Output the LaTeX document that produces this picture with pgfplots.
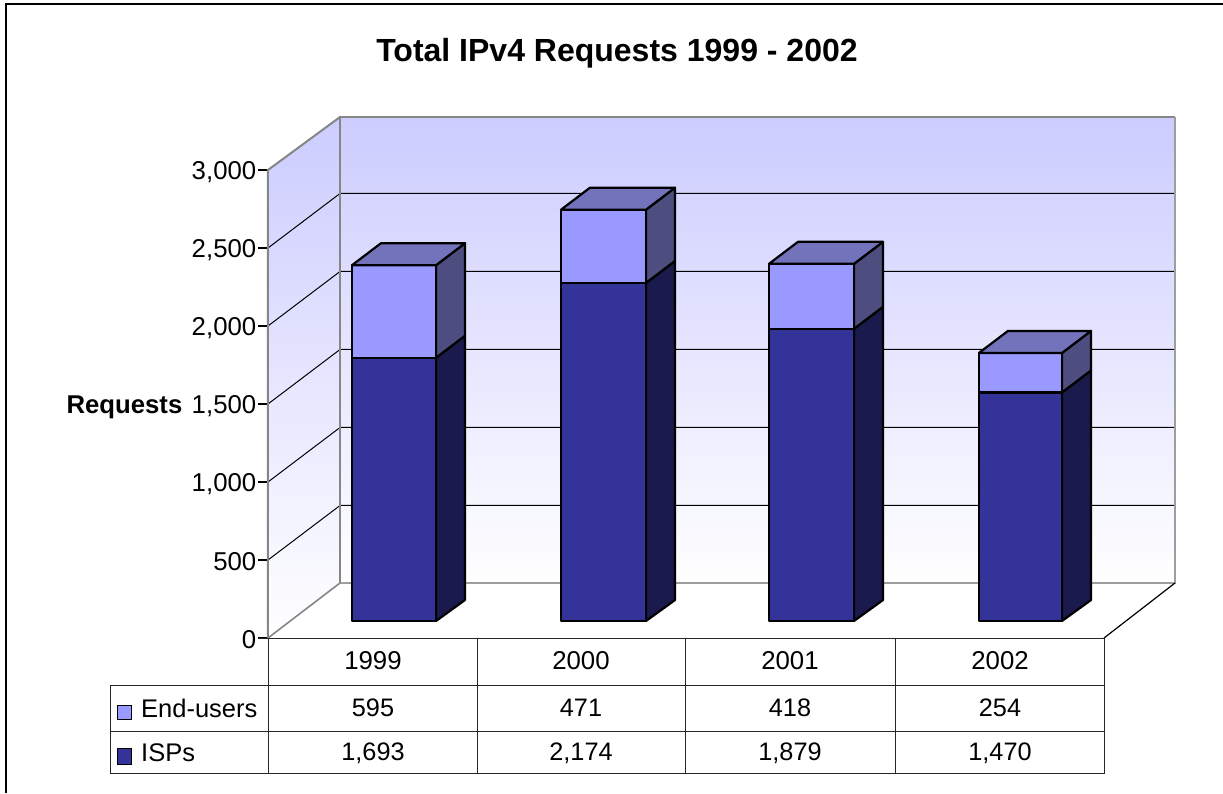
\documentclass[border=0pt]{standalone}
\usepackage{fontspec}
\setmainfont{Liberation Sans}
\usepackage{pgfplots}
\pgfplotsset{compat=1.18}
\definecolor{wall}{HTML}{CCCCFF}
\definecolor{frameg}{HTML}{868686}
\definecolor{isp}{HTML}{333399}
\definecolor{ispside}{HTML}{1A1A4D}
\definecolor{end}{HTML}{9999FF}
\definecolor{endside}{HTML}{4D4D80}
\definecolor{endtop}{HTML}{7373BB}
% x1 x2 x3(back) lo hi lo+depth hi+depth front side
\newcommand{\seg}[9]{%
  \addplot[draw=black,line width=2.2pt,line join=round,fill=#9] coordinates {(#2,#4) (#3,#6) (#3,#7) (#2,#5)} -- cycle;
  \addplot[draw=black,line width=2.2pt,line join=round,fill=#8] coordinates {(#1,#4) (#2,#4) (#2,#5) (#1,#5)} -- cycle;
}
% x1 x2 depth-x1 x3 hi hi+depth
\newcommand{\topf}[6]{%
  \addplot[draw=black,line width=2.2pt,line join=round,fill=endtop] coordinates {(#1,#5) (#2,#5) (#4,#6) (#3,#6)} -- cycle;
}
\newcommand{\cell}[3]{\node[font=\fontsize{25.3}{28}\selectfont,anchor=center,inner sep=0pt] at (axis cs:#1,#2) {#3};}
\begin{document}
\begin{tikzpicture}
\useasboundingbox (-268pt,-155pt) rectangle (955pt,638pt);
\fill[white] (-268pt,-155pt) rectangle (955pt,638pt);
% walls, grid, value ticks and the data table
\begin{axis}[
  at={(0pt,0pt)},anchor=south west,
  scale only axis,width=907pt,height=468pt,
  xmin=268,xmax=1175,ymin=0,ymax=3000,clip=false,
  axis lines=left,axis line style={-,draw=none},
  ytick={0,500,1000,1500,2000,2500,3000},
  xtick={373,581,790,1000},xticklabels={1999,2000,2001,2002},
  tick align=outside,major tick length=10pt,
  ytick style={black,line width=1.1pt},xtick style={draw=none},
  tick label style={font=\fontsize{25.8}{28}\selectfont},
  yticklabel style={inner sep=1.5pt,yshift=-2pt},
  xticklabel style={anchor=center,inner sep=0pt,yshift=-13pt},
  /pgf/number format/.cd,assume math mode=true,1000 sep={,},fixed,precision=0,
]
% chart frame
\addplot[black,line width=2pt] coordinates {(6,-993.6) (6,4064.1) (1223,4064.1)};
% floor
\addplot[draw=none,fill=white] coordinates {(268,0) (340,352.6) (1175,352.6) (1104,0)} -- cycle;
% side and back walls
\addplot[draw=none,top color=wall,bottom color=white] coordinates {(268,0) (340,352.6) (340,3339.7) (268,3000)} -- cycle;
\addplot[draw=none,top color=wall,bottom color=white] coordinates {(340,352.6) (1175,352.6) (1175,3339.7) (340,3339.7)} -- cycle;
% gridlines
\addplot[black,line width=1pt] coordinates {(268,500) (340,849.4) (1175,849.4)};
\addplot[black,line width=1pt] coordinates {(268,1000) (340,1349.4) (1175,1349.4)};
\addplot[black,line width=1pt] coordinates {(268,1500) (340,1849.4) (1175,1849.4)};
\addplot[black,line width=1pt] coordinates {(268,2000) (340,2349.4) (1175,2349.4)};
\addplot[black,line width=1pt] coordinates {(268,2500) (340,2849.4) (1175,2849.4)};
% wall edges
\addplot[frameg,line width=2pt] coordinates {(268,0) (268,3000) (340,3339.7)};
\addplot[frameg,line width=2.6pt] coordinates {(340,352.6) (340,3339.7) (1175,3339.7)};
\addplot[frameg!80,line width=2.6pt] coordinates {(1175,3339.7) (1175,352.6) (340,352.6)};
\addplot[frameg,line width=1.6pt] coordinates {(268,0) (340,352.6)};
\addplot[black,line width=1.2pt] coordinates {(1104,0) (1175,352.6)};
% data table rules
\addplot[black!85,line width=1.1pt] coordinates {(258,-3.2) (1104.5,-3.2)};
\addplot[black!85,line width=1.1pt] coordinates {(110,-304.5) (1104.5,-304.5)};
\addplot[black!85,line width=1.1pt] coordinates {(110,-599.4) (1104.5,-599.4)};
\addplot[black!85,line width=1.1pt] coordinates {(110,-868.6) (1104.5,-868.6)};
\addplot[black!85,line width=1.1pt] coordinates {(110.5,-304.5) (110.5,-868.6)};
\addplot[black!85,line width=1.1pt] coordinates {(268.5,0) (268.5,-868.6)};
\addplot[black!85,line width=1.1pt] coordinates {(477.5,0) (477.5,-868.6)};
\addplot[black!85,line width=1.1pt] coordinates {(685.5,0) (685.5,-868.6)};
\addplot[black!85,line width=1.1pt] coordinates {(895.5,0) (895.5,-868.6)};
\addplot[black!85,line width=1.1pt] coordinates {(1104.5,0) (1104.5,-868.6)};
% legend keys
\addplot[draw=black,line width=1pt,fill=end] coordinates {(117.5,-429.5) (132,-429.5) (132,-525.6) (117.5,-525.6)} -- cycle;
\addplot[draw=black,line width=1pt,fill=isp] coordinates {(117.5,-711.5) (132,-711.5) (132,-807.7) (117.5,-807.7)} -- cycle;
% table text
\node[font=\fontsize{25.5}{28}\selectfont,anchor=west,inner sep=0pt] at (axis cs:141,-448.7) {End-users};
\node[font=\fontsize{25.5}{28}\selectfont,anchor=west,inner sep=0pt] at (axis cs:141,-737) {ISPs};
\cell{373}{-448.7}{595}\cell{581}{-448.7}{471}\cell{790}{-448.7}{418}\cell{1000}{-448.7}{254}
\cell{373}{-737}{1,693}\cell{581}{-737}{2,174}\cell{790}{-737}{1,879}\cell{1000}{-737}{1,470}
% titles
\node[font=\fontsize{32}{36}\bfseries\selectfont,anchor=center,inner sep=0pt] at (axis cs:617,3750) {Total IPv4 Requests 1999 - 2002};
\node[font=\fontsize{25.7}{30}\bfseries\selectfont,anchor=center,inner sep=0pt] at (axis cs:124.5,1480.8) {Requests};
\end{axis}
% the stacked bars: value 0 stands at the front of the floor
\begin{axis}[
  at={(0pt,0pt)},anchor=south west,
  scale only axis,width=907pt,height=468pt,
  xmin=268,xmax=1175,ymin=-109.3,ymax=2900.3,clip=false,hide axis,
]
\seg{352}{436}{465}{0}{1693}{135}{1834.5}{isp}{ispside}
\seg{352}{436}{465}{1693}{2288}{1834.5}{2429.5}{end}{endside}
\topf{352}{436}{381}{465}{2288}{2429.5}
\seg{561}{646}{675}{0}{2174}{135}{2315.5}{isp}{ispside}
\seg{561}{646}{675}{2174}{2645}{2315.5}{2786.5}{end}{endside}
\topf{561}{646}{590}{675}{2645}{2786.5}
\seg{769}{854}{883}{0}{1879}{135}{2020.5}{isp}{ispside}
\seg{769}{854}{883}{1879}{2297}{2020.5}{2438.5}{end}{endside}
\topf{769}{854}{798}{883}{2297}{2438.5}
\seg{979}{1062}{1091}{0}{1470}{135}{1611.5}{isp}{ispside}
\seg{979}{1062}{1091}{1470}{1724}{1611.5}{1865.5}{end}{endside}
\topf{979}{1062}{1008}{1091}{1724}{1865.5}
\end{axis}
\end{tikzpicture}
\end{document}
